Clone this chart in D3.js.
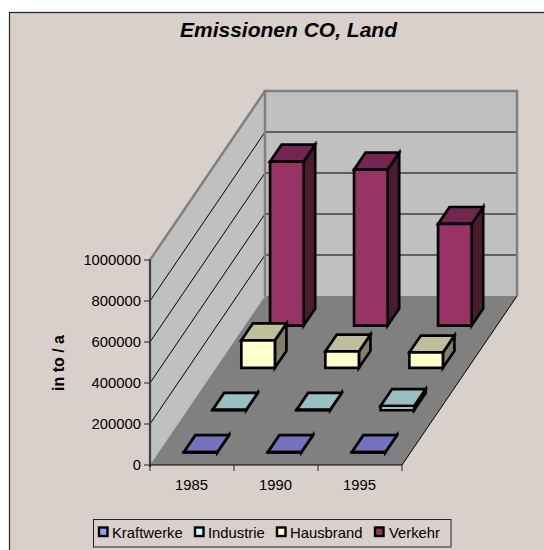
<!DOCTYPE html>
<html><head><meta charset="utf-8">
<script src="https://cdn.jsdelivr.net/npm/d3@7/dist/d3.min.js"></script>
<style>html,body{margin:0;padding:0;background:#fff}svg{display:block}text{font-family:"Liberation Sans",Arial,sans-serif;fill:#000}</style>
</head><body><div id="c"></div>
<script>
const years=["1985","1990","1995"];
const seriesNames=["Kraftwerke","Industrie","Hausbrand","Verkehr"];
const kraftwerke=[1000,1000,1000];
const industrie=[1000,1000,20000];
const hausbrand=[134000,80000,75000];
const verkehr=[800000,761000,496000];
const seriesValues=[kraftwerke,industrie,hausbrand,verkehr];
const yTicks=[0,200000,400000,600000,800000,1000000];
const frontColors=["#9999FF","#CCFFFF","#FFFFCC","#993366"];
const topColors=["#7373BF","#99BFBF","#BFBF99","#732650"];
const sideColors=["#4D4D80","#668080","#808066","#4D1A33"];

const W=544,H=550;
const svg=d3.select("#c").append("svg").attr("width",W).attr("height",H);
const x=d3.scaleBand().domain(years).range([150,402]).paddingInner(0).paddingOuter(0);
const y=d3.scaleLinear().domain([0,1000000]).range([465,260]);
const depth=d3.scaleBand().domain(seriesNames).range([0,1]);
const dx=115,dy=-169;
const P=(px,py,t)=>[px+dx*t,py+dy*t];
const poly=pts=>"M"+pts.map(p=>p.join(",")).join("L")+"Z";

// frame
svg.append("rect").attr("x",9.5).attr("y",12.5).attr("width",W+20).attr("height",H+20)
  .attr("fill","#D8D0CA").attr("stroke","#222").attr("stroke-width",1.2);

// title
svg.append("text").attr("x",288.5).attr("y",37).attr("text-anchor","middle")
  .attr("font-size",21).attr("font-weight","bold").attr("font-style","italic").text("Emissionen CO, Land");

const x0=x.range()[0],x1=x.range()[1],y0=y(0),yT=y(1000000);
// walls and floor
svg.append("path").attr("d",poly([P(x0,y0,0),P(x0,yT,0),P(x0,yT,1),P(x0,y0,1)])).attr("fill","#C0C0C0");
svg.append("path").attr("d",poly([P(x0,yT,1),P(x1,yT,1),P(x1,y0,1),P(x0,y0,1)])).attr("fill","#C0C0C0");

// gridlines
yTicks.filter(v=>v>0&&v<1000000).forEach(v=>{
  const a=P(x0,y(v),0),b=P(x0,y(v),1),c=P(x1,y(v),1);
  svg.append("path").attr("d",`M${a}L${b}L${c}`).attr("fill","none").attr("stroke","#000").attr("stroke-width",1);
});
svg.append("path").attr("d",poly([P(x0,y0,0),P(x1,y0,0),P(x1,y0,1),P(x0,y0,1)])).attr("fill","#808080");
// wall outlines
svg.append("path").attr("d",`M${P(x0,y0,1)}L${P(x0,yT,1)}L${P(x1,yT,1)}L${P(x1,y0,1)}`).attr("fill","none").attr("stroke","#808080").attr("stroke-width",2.5);
svg.append("path").attr("d",`M${P(x0,yT,0)}L${P(x0,yT,1)}`).attr("fill","none").attr("stroke","#808080").attr("stroke-width",2.5);
// floor right edge
svg.append("path").attr("d",`M${P(x1,y0,0)}L${P(x1,y0,1)}`).attr("fill","none").attr("stroke","#000").attr("stroke-width",1);

// bars, back to front
const barW=x.bandwidth()/2.5, barD=depth.bandwidth()/2.5;
const bars=[];
seriesNames.forEach((s,si)=>years.forEach((yr,i)=>bars.push({si,s,yr,v:seriesValues[si][i]})));
bars.sort((a,b)=>d3.descending(a.si,b.si));
const g=svg.append("g").attr("stroke","#000").attr("stroke-width",2.7).attr("stroke-linejoin","miter");
bars.forEach(b=>{
  const l=x(b.yr)+(x.bandwidth()-barW)/2,r=l+barW;
  const t0=depth(b.s)+(depth.bandwidth()-barD)/2,t1=t0+barD;
  const yb=y(0),yt=y(b.v);
  g.append("path").attr("d",poly([P(r,yb,t0),P(r,yb,t1),P(r,yt,t1),P(r,yt,t0)])).attr("fill",sideColors[b.si]);
  g.append("path").attr("d",poly([P(l,yt,t0),P(r,yt,t0),P(r,yt,t1),P(l,yt,t1)])).attr("fill",topColors[b.si]);
  g.append("path").attr("d",poly([P(l,yb,t0),P(r,yb,t0),P(r,yt,t0),P(l,yt,t0)])).attr("fill",frontColors[b.si]);
});

// axes
const fs=14.8;
const yAxis=svg.append("g");
yAxis.append("line").attr("x1",x0).attr("x2",x0).attr("y1",yT).attr("y2",y0+2).attr("stroke","#404040").attr("stroke-width",2.2);
yTicks.forEach(v=>{
  yAxis.append("line").attr("x1",x0-6).attr("x2",x0).attr("y1",y(v)).attr("y2",y(v)).attr("stroke","#222").attr("stroke-width",1);
  yAxis.append("text").attr("x",x0-9).attr("y",y(v)+5).attr("text-anchor","end").attr("font-size",fs).text(v);
});
const xAxis=svg.append("g");
xAxis.append("line").attr("x1",x0).attr("x2",x1).attr("y1",y0).attr("y2",y0).attr("stroke","#000").attr("stroke-width",1);
[...years.map(d=>x(d)),x1].forEach(px=>{
  xAxis.append("line").attr("x1",px).attr("x2",px).attr("y1",y0).attr("y2",y0+6).attr("stroke","#222").attr("stroke-width",1);
});
years.forEach(d=>{
  xAxis.append("text").attr("x",x(d)+x.bandwidth()/2-0.5).attr("y",490).attr("text-anchor","middle").attr("font-size",fs).text(d);
});
// axis title
svg.append("text").attr("transform","translate(64,363) rotate(-90)").attr("text-anchor","middle")
  .attr("font-size",16).attr("font-weight","bold").text("in to / a");

// legend
svg.append("rect").attr("x",93.5).attr("y",519.5).attr("width",357.5).attr("height",27.5)
  .attr("fill","#D8D0CA").attr("stroke","#222").attr("stroke-width",1);
const legX=[99,195,277,375];
const legText=[112,208,290,389];
seriesNames.forEach((s,i)=>{
  svg.append("rect").attr("x",legX[i]).attr("y",527.5).attr("width",8.5).attr("height",8.5)
    .attr("fill",frontColors[i]).attr("stroke","#000").attr("stroke-width",2.4);
  svg.append("text").attr("x",legText[i]).attr("y",538).attr("font-size",fs).text(s);
});
</script></body></html>
